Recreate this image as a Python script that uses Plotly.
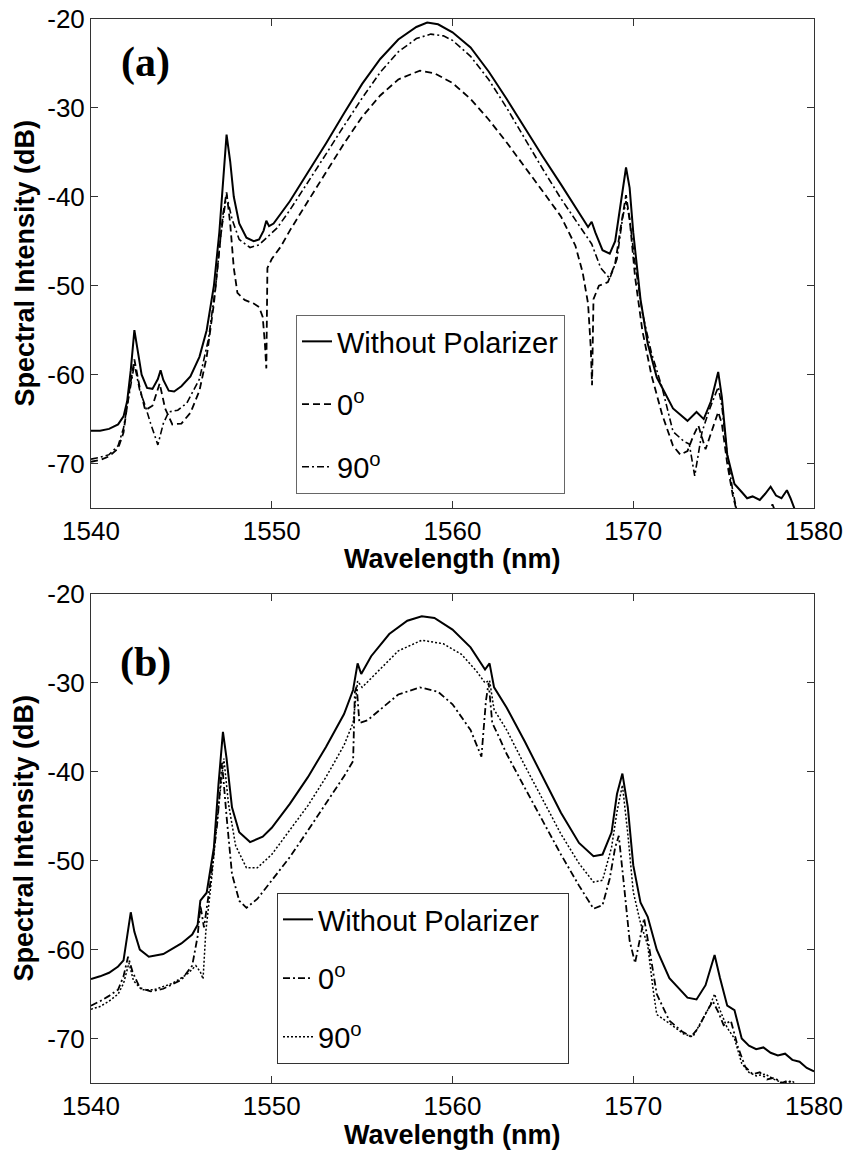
import plotly.graph_objects as go

# ---- panel (a) ----
a_nopol_wl = [1540.0, 1540.5, 1541.0, 1541.5, 1541.8, 1542.0, 1542.2, 1542.4, 1542.6, 1542.8,
              1543.1, 1543.4, 1543.7, 1543.85, 1544.0, 1544.3, 1544.6, 1545.0, 1545.5, 1546.0,
              1546.4, 1546.8, 1547.1, 1547.3, 1547.5, 1547.7, 1547.9, 1548.2, 1548.6, 1549.0,
              1549.3, 1549.55, 1549.7, 1549.85, 1550.1, 1551.0, 1552.0, 1553.0, 1554.0, 1555.0,
              1556.0, 1557.0, 1558.0, 1558.6, 1559.2, 1560.0, 1561.0, 1562.0, 1563.0, 1564.0,
              1565.0, 1566.0, 1567.0, 1567.5, 1567.7, 1567.9, 1568.3, 1568.7, 1569.0, 1569.3,
              1569.6, 1569.8, 1570.0, 1570.4, 1570.8, 1571.3, 1572.2, 1573.0, 1573.5, 1573.9,
              1574.3, 1574.7, 1574.9, 1575.2, 1575.6, 1576.0, 1576.3, 1576.6, 1577.0, 1577.3,
              1577.6, 1577.9, 1578.2, 1578.5, 1578.7, 1579.0]
a_nopol_db = [-66.3, -66.3, -66.1, -65.6, -64.7, -63.0, -59.5, -55.0, -57.5, -60.0,
              -61.5, -61.6, -60.5, -59.5, -60.6, -61.8, -61.9, -61.3, -60.2, -58.0,
              -55.0, -50.0, -44.0, -38.5, -33.0, -36.0, -40.0, -43.0, -44.6, -45.0,
              -44.8, -43.8, -42.7, -43.3, -43.0, -40.5, -37.3, -34.0, -30.6, -27.3,
              -24.5, -22.3, -20.9, -20.4, -20.6, -21.5, -23.2, -25.9, -29.0, -32.3,
              -35.5, -38.6, -41.8, -43.4, -42.8, -44.0, -46.0, -46.4, -45.0, -41.0,
              -36.7, -39.0, -44.0, -51.5, -56.5, -60.3, -63.8, -65.2, -64.2, -65.0,
              -63.0, -59.7, -62.5, -69.0, -72.3, -73.2, -73.9, -73.7, -74.1, -73.4,
              -72.6, -73.6, -73.9, -73.0, -73.9, -75.5]

a_deg0_wl = [1540.0, 1540.5, 1541.0, 1541.5, 1541.8, 1542.1, 1542.4, 1542.7, 1543.0, 1543.4,
             1543.8, 1544.1, 1544.5, 1545.0, 1545.5, 1546.0, 1546.4, 1546.8, 1547.1, 1547.3,
             1547.5, 1547.7, 1547.9, 1548.1, 1548.5, 1549.0, 1549.3, 1549.5, 1549.62, 1549.7,
             1549.76, 1550.0, 1550.5, 1551.0, 1552.0, 1553.0, 1554.0, 1555.0, 1556.0, 1557.0,
             1558.2, 1559.0, 1560.0, 1561.0, 1562.0, 1563.0, 1564.0, 1565.0, 1566.0, 1566.8,
             1567.2, 1567.5, 1567.65, 1567.72, 1567.8, 1568.1, 1568.6, 1569.0, 1569.3, 1569.6,
             1569.8, 1570.1, 1570.5, 1571.0, 1571.6, 1572.2, 1572.6, 1573.0, 1573.3, 1573.6,
             1574.0, 1574.3, 1574.7, 1574.9, 1575.2, 1575.5, 1575.8, 1577.5, 1577.7, 1577.9]
a_deg0_db = [-69.8, -69.6, -69.2, -68.3, -66.5, -62.0, -58.3, -61.5, -64.0, -63.5,
             -61.0, -63.8, -65.6, -65.5, -64.3, -61.8, -58.0, -52.0, -46.0, -42.0,
             -39.5, -43.0, -48.0, -50.8, -51.6, -52.0, -52.4, -53.5, -56.5, -59.3,
             -48.0, -47.0, -45.6, -43.8, -40.5, -37.2, -34.0, -31.0, -28.6, -26.8,
             -25.8, -26.1, -27.2, -29.0, -31.3, -33.9, -36.6, -39.4, -42.2, -45.5,
             -48.5, -52.0, -57.0, -61.2, -51.5, -50.0, -49.6, -47.5, -43.5, -39.8,
             -42.5, -49.0, -55.0, -60.0, -64.5, -68.0, -69.0, -68.6, -67.0, -65.7,
             -68.4, -66.5, -64.2, -65.5, -70.0, -73.5, -76.0, -75.5, -74.6, -75.6]

a_deg90_wl = [1540.0, 1540.5, 1541.0, 1541.5, 1541.8, 1542.1, 1542.4, 1542.7, 1543.0, 1543.3,
              1543.7, 1544.0, 1544.3, 1544.8, 1545.3, 1546.0, 1546.5, 1546.9, 1547.2, 1547.5,
              1547.8, 1548.2, 1548.8, 1549.3, 1549.8, 1550.3, 1551.0, 1552.0, 1553.0, 1554.0,
              1555.0, 1556.0, 1557.0, 1558.0, 1558.8, 1559.5, 1560.0, 1561.0, 1562.0, 1563.0,
              1564.0, 1565.0, 1566.0, 1567.0, 1567.7, 1568.2, 1568.7, 1569.1, 1569.4, 1569.6,
              1569.8, 1570.1, 1570.5, 1571.0, 1571.6, 1572.2, 1572.8, 1573.1, 1573.4, 1573.8,
              1574.2, 1574.7, 1574.9, 1575.2, 1575.5, 1575.8]
a_deg90_db = [-69.5, -69.3, -69.0, -68.0, -66.0, -62.5, -58.8, -61.8, -63.5, -65.5,
              -67.9, -65.5, -64.2, -64.0, -63.2, -60.5, -56.0, -50.0, -44.0, -39.8,
              -42.5, -44.8, -45.7, -45.4, -44.5, -43.5, -41.5, -38.4, -35.2, -32.0,
              -28.9, -26.0, -23.7, -22.2, -21.7, -21.9, -22.4, -24.2, -26.8, -30.0,
              -33.5, -36.9, -40.2, -43.2, -45.3, -48.0, -49.2, -47.0, -42.5, -40.5,
              -42.5, -47.5, -53.0, -57.5, -61.5, -66.4, -67.5, -67.8, -71.4, -66.5,
              -64.0, -61.4, -63.5, -69.0, -73.0, -76.0]

# ---- panel (b) ----
b_nopol_wl = [1540.0, 1540.5, 1541.0, 1541.5, 1541.8, 1542.0, 1542.2, 1542.4, 1542.7, 1543.2,
              1544.0, 1545.0, 1545.6, 1545.9, 1546.05, 1546.4, 1546.8, 1547.05, 1547.3, 1547.5,
              1547.8, 1548.2, 1548.8, 1549.5, 1550.0, 1551.0, 1552.0, 1553.0, 1554.0, 1554.5,
              1554.75, 1554.95, 1555.5, 1556.5, 1557.5, 1558.3, 1559.0, 1560.0, 1561.0, 1561.8,
              1562.05, 1562.3, 1563.0, 1564.0, 1565.0, 1566.0, 1567.0, 1567.8, 1568.3, 1568.8,
              1569.1, 1569.4, 1569.7, 1570.0, 1570.4, 1570.8, 1571.3, 1572.0, 1573.0, 1573.5,
              1574.0, 1574.3, 1574.5, 1574.8, 1575.2, 1575.6, 1576.0, 1576.4, 1576.8, 1577.2,
              1577.6, 1578.0, 1578.4, 1578.8, 1579.2, 1579.6, 1580.0]
b_nopol_db = [-63.3, -63.0, -62.6, -61.9, -61.2, -58.5, -55.8, -58.0, -60.0, -60.8,
              -60.5, -59.3, -58.3, -57.2, -54.5, -53.6, -48.5, -41.5, -35.5, -38.5,
              -44.0, -46.8, -47.9, -47.3, -46.3, -43.6, -40.6, -37.2, -33.5, -30.8,
              -27.8, -29.0, -27.0, -24.5, -23.0, -22.5, -22.7, -24.0, -26.0, -28.5,
              -27.8, -30.5, -32.8, -36.6, -40.6, -44.6, -48.0, -49.5, -49.3, -46.8,
              -42.5, -40.2, -44.0, -50.5, -54.7, -56.3, -60.0, -63.2, -65.4, -65.6,
              -64.0, -61.8, -60.6, -63.2, -66.3, -66.8, -70.0, -70.8, -71.2, -71.0,
              -71.6, -71.9, -71.7, -72.4, -72.6, -73.3, -73.7]

b_deg0_wl = [1540.0, 1540.5, 1541.0, 1541.5, 1541.8, 1542.05, 1542.3, 1542.7, 1543.3, 1544.0,
             1545.0, 1545.6, 1545.9, 1546.05, 1546.25, 1546.6, 1547.0, 1547.25, 1547.5, 1547.8,
             1548.2, 1548.6, 1549.2, 1550.0, 1551.0, 1552.0, 1553.0, 1554.0, 1554.5, 1554.6,
             1554.7, 1554.85, 1555.3, 1556.0, 1557.0, 1558.2, 1559.2, 1560.0, 1561.0, 1561.6,
             1561.85, 1562.0, 1562.2, 1562.6, 1563.0, 1564.0, 1565.0, 1566.0, 1567.0, 1567.8,
             1568.3, 1568.7, 1569.0, 1569.2, 1569.5, 1569.8, 1570.1, 1570.4, 1570.6, 1570.9,
             1571.3, 1572.0, 1572.7, 1573.2, 1573.6, 1574.0, 1574.4, 1574.7, 1575.0, 1575.4,
             1575.8, 1576.2, 1576.6, 1577.0, 1577.4, 1577.8, 1578.2, 1578.6, 1579.0]
b_deg0_db = [-66.3, -65.8, -65.2, -64.5, -63.0, -60.8, -62.5, -64.3, -64.7, -64.4,
             -63.4, -61.8, -58.5, -55.0, -57.5, -52.5, -45.5, -39.0, -45.0, -51.5,
             -54.5, -55.3, -54.3, -52.2, -49.6, -46.6, -43.6, -40.5, -38.8, -31.0,
             -30.4, -34.5, -34.2, -33.0, -31.3, -30.5, -31.0, -32.4, -35.3, -38.3,
             -32.0, -30.0, -34.5, -36.2, -38.0, -41.8, -45.6, -49.3, -52.8, -55.4,
             -55.0, -52.0, -48.5, -47.2, -53.0, -59.0, -61.5, -58.5, -56.5, -60.0,
             -65.0, -68.0, -69.2, -69.8, -68.8, -67.2, -65.8, -67.0, -68.5, -68.0,
             -71.0, -73.2, -74.0, -73.8, -74.6, -74.4, -75.0, -74.7, -75.5]

b_deg90_wl = [1540.0, 1540.5, 1541.0, 1541.5, 1541.8, 1542.1, 1542.35, 1542.8, 1543.5, 1544.5,
              1545.3, 1545.8, 1546.05, 1546.2, 1546.35, 1546.7, 1547.0, 1547.35, 1547.6, 1548.0,
              1548.6, 1549.2, 1550.0, 1551.0, 1552.0, 1553.0, 1554.0, 1554.5, 1554.75, 1555.0,
              1556.0, 1557.0, 1558.3, 1559.5, 1560.5, 1561.3, 1561.8, 1562.05, 1562.3, 1563.0,
              1564.0, 1565.0, 1566.0, 1567.0, 1567.8, 1568.3, 1568.8, 1569.1, 1569.4, 1569.7,
              1570.0, 1570.4, 1570.8, 1571.1, 1571.3, 1572.0, 1572.8, 1573.3, 1573.8, 1574.2,
              1574.5, 1574.8, 1575.2, 1575.6, 1576.0, 1576.4, 1576.8, 1577.3, 1577.8, 1578.3,
              1578.8, 1579.3]
b_deg90_db = [-66.7, -66.4, -65.8, -65.0, -63.8, -61.5, -63.5, -64.5, -64.5, -63.8,
              -62.8, -61.8, -62.5, -63.3, -58.0, -51.5, -45.0, -38.5, -43.5, -48.3,
              -50.8, -50.8, -49.3, -46.6, -43.8, -40.6, -37.0, -34.5, -29.8, -30.5,
              -28.4, -26.4, -25.2, -25.6, -26.8, -28.6, -30.0, -29.7, -33.0, -35.3,
              -39.3, -43.2, -47.0, -50.3, -52.4, -52.2, -48.5, -44.5, -41.5, -47.0,
              -53.5, -57.0, -59.5, -64.5, -67.3, -68.3, -69.5, -69.8, -68.0, -66.5,
              -65.0, -66.8, -68.8, -70.0, -72.8, -73.8, -74.2, -74.0, -74.6, -75.0,
              -74.8, -75.5]

x_ticks = [1540, 1550, 1560, 1570, 1580]
y_ticks = [-20, -30, -40, -50, -60, -70]
y_tick_text = ["-20", "-30", "-40", "-50", "-60", "-70"]
label_nopol = "Without Polarizer"
label_0 = "0<sup>o</sup>"
label_90 = "90<sup>o</sup>"

FONT = "Liberation Sans, Arial, sans-serif"
# the page body adds an 8px margin, so the figure is laid out 8px smaller
PAGE_OFF = 8
W, H = 851 - PAGE_OFF, 1154 - PAGE_OFF
# plot area in page pixels
LEFT, RIGHT, TOP, BOTTOM = 91, 814, 19, 1083
ML, MT = LEFT - PAGE_OFF, TOP - PAGE_OFF
MR = W - (RIGHT - PAGE_OFF)
MB = H - (BOTTOM - PAGE_OFF)
plot_h = BOTTOM - TOP
plot_w = RIGHT - LEFT


def py(pix):
    # page pixel (from top) -> paper y
    return 1 - (pix - TOP) / plot_h


def px(pix):
    return (pix - LEFT) / plot_w


fig = go.Figure()

def add(xs, ys, name, dash, width, xa, ya, legend, group):
    fig.add_trace(go.Scatter(
        x=xs, y=ys, mode="lines", name=name,
        line=dict(color="black", width=width, dash=dash),
        xaxis=xa, yaxis=ya, legend=legend, legendgroup=group,
    ))

add(a_nopol_wl, a_nopol_db, label_nopol, "solid", 2.0, "x", "y", "legend", "a1")
add(a_deg0_wl, a_deg0_db, label_0, "7px,4px", 1.8, "x", "y", "legend", "a2")
add(a_deg90_wl, a_deg90_db, label_90, "7px,3px,2px,3px", 1.6, "x", "y", "legend", "a3")
# trailing spaces widen the second legend box like in the original
add(b_nopol_wl, b_nopol_db, label_nopol + "\u00a0\u00a0\u00a0", "solid", 2.0, "x2", "y2", "legend2", "b1")
add(b_deg0_wl, b_deg0_db, label_0, "7px,3px,2px,3px", 1.8, "x2", "y2", "legend2", "b2")
add(b_deg90_wl, b_deg90_db, label_90, "2px,2px", 1.5, "x2", "y2", "legend2", "b3")

axis_common = dict(
    showgrid=False, zeroline=False, showline=True, linecolor="#333", linewidth=1,
    mirror="ticks", ticks="inside", ticklen=7, tickcolor="#333",
    tickfont=dict(family=FONT, size=26, color="black"),
    ticklabeloverflow="allow",
)
a_bottom = py(508)
b_top = py(594)

fig.update_layout(
    width=W, height=H,
    margin=dict(l=ML, r=MR, t=MT, b=MB, autoexpand=False),
    paper_bgcolor="white", plot_bgcolor="white",
    xaxis=dict(domain=[0, 1], anchor="y", range=[1540, 1580], tickvals=x_ticks, **axis_common),
    yaxis=dict(domain=[a_bottom, 1], anchor="x", range=[-75, -20], tickvals=y_ticks,
               ticktext=y_tick_text, **axis_common),
    xaxis2=dict(domain=[0, 1], anchor="y2", range=[1540, 1580], tickvals=x_ticks, **axis_common),
    yaxis2=dict(domain=[0, b_top], anchor="x2", range=[-75, -20], tickvals=y_ticks,
                ticktext=y_tick_text, **axis_common),
    legend=dict(x=px(296), y=py(315), xanchor="left", yanchor="top",
                bgcolor="white", bordercolor="#666", borderwidth=1,
                font=dict(family=FONT, size=29, color="black"),
                tracegroupgap=22, itemwidth=30),
    legend2=dict(x=px(277), y=py(893), xanchor="left", yanchor="top",
                 bgcolor="white", bordercolor="#333", borderwidth=1,
                 font=dict(family=FONT, size=29, color="black"),
                 tracegroupgap=18, itemwidth=30),
)

title_font = dict(family=FONT, size=27, color="black", weight="bold")
for ymid, ylab in [((a_bottom + 1) / 2, py(559)), (b_top / 2, py(1135))]:
    fig.add_annotation(text="Spectral Intensity (dB)", xref="paper", yref="paper",
                       x=px(24), y=ymid, textangle=-90, showarrow=False,
                       xanchor="center", yanchor="middle", font=title_font)
    fig.add_annotation(text="Wavelength (nm)", xref="paper", yref="paper",
                       x=0.5, y=ylab, showarrow=False,
                       xanchor="center", yanchor="middle", font=title_font)

panel_font = dict(family="Liberation Serif, Times New Roman, serif", size=42,
                  color="black", weight="bold")
fig.add_annotation(text="(a)", x=1543.0, y=-24.9, xref="x", yref="y",
                   showarrow=False, font=panel_font)
fig.add_annotation(text="(b)", x=1543.0, y=-27.7, xref="x2", yref="y2",
                   showarrow=False, font=panel_font)

fig.write_html("out.html")
